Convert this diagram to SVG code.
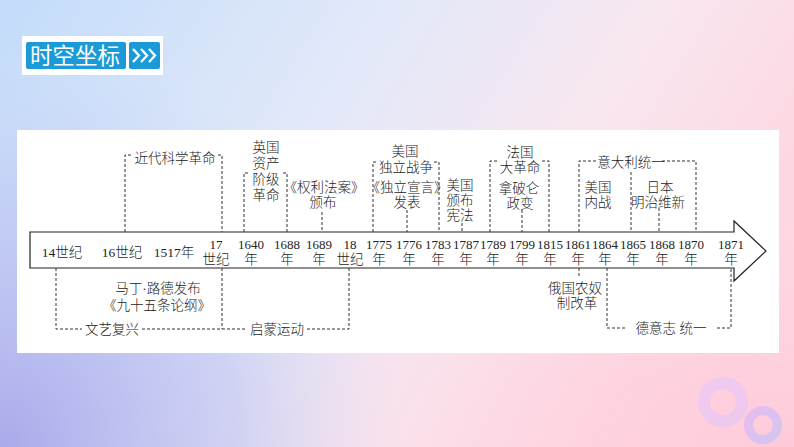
<svg xmlns="http://www.w3.org/2000/svg" width="794" height="447" viewBox="0 0 794 447">
<defs>
<linearGradient id="bg" x1="0" y1="0" x2="1" y2="0.35">
<stop offset="0" stop-color="#c3dcfa"/>
<stop offset="0.45" stop-color="#e3e9f9"/>
<stop offset="0.75" stop-color="#f8e6ef"/>
<stop offset="1" stop-color="#fdd8e2"/>
</linearGradient>
<radialGradient id="lav" cx="0" cy="1" r="0.9" gradientTransform="scale(0.56,1)">
<stop offset="0" stop-color="#a8a6ea" stop-opacity="0.95"/>
<stop offset="0.6" stop-color="#b8bcf0" stop-opacity="0.5"/>
<stop offset="1" stop-color="#c8d4f6" stop-opacity="0"/>
</radialGradient>
<radialGradient id="pk" cx="1" cy="1" r="0.7">
<stop offset="0" stop-color="#ffc8d8" stop-opacity="0.9"/>
<stop offset="1" stop-color="#ffd8e4" stop-opacity="0"/>
</radialGradient>
<linearGradient id="ring2" x1="0" y1="0" x2="1" y2="1">
<stop offset="0" stop-color="#dcb8f4"/>
<stop offset="1" stop-color="#c4c4f8"/>
</linearGradient>
<style>
.t{font-family:"Liberation Serif","Noto Sans CJK SC",serif;font-size:13.5px;font-weight:300;fill:#222;text-anchor:middle}
.y{font-size:13px}
.d{stroke:#333;stroke-width:1;stroke-dasharray:3 2;fill:none}
</style>
</defs>
<rect width="794" height="447" fill="url(#bg)"/>
<rect width="794" height="447" fill="url(#lav)"/>
<rect width="794" height="447" fill="url(#pk)"/>
<circle cx="723" cy="402" r="19" fill="none" stroke="#e8c6f6" stroke-width="12" opacity="0.7"/>
<circle cx="763" cy="425" r="14.5" fill="none" stroke="url(#ring2)" stroke-width="9" opacity="0.75"/>

<g id="title">
<rect x="22" y="36" width="141" height="39" fill="#fff"/>
<rect x="26" y="42" width="100" height="27" rx="2" fill="#1b9ad8"/>
<rect x="129" y="42" width="31" height="27" rx="2" fill="#1b9ad8"/>
<text x="75" y="64" font-family="'Noto Sans CJK SC',sans-serif" font-size="22.5" fill="#fff" text-anchor="middle">时空坐标</text>
<polyline points="133,49 139,55.5 133,62" fill="none" stroke="#fff" stroke-width="2.4"/>
<polyline points="141,49 147,55.5 141,62" fill="none" stroke="#fff" stroke-width="2.4"/>
<polyline points="149,49 155,55.5 149,62" fill="none" stroke="#fff" stroke-width="2.4"/>
</g>

<rect x="17" y="130" width="762" height="223" fill="#fff"/>

<g id="timeline">
<path d="M30,232 H734 V221 L766,251 L734,281 V268 H30 Z" fill="#fff" stroke="#222" stroke-width="1.2"/>
<text class="t" x="62" y="257">14世纪</text>
<text class="t" x="122" y="257">16世纪</text>
<text class="t" x="174" y="257">1517年</text>
<text class="t y" x="216" y="249">17</text><text class="t" x="216" y="264">世纪</text>
<text class="t y" x="251" y="249">1640</text><text class="t" x="251" y="264">年</text>
<text class="t y" x="287" y="249">1688</text><text class="t" x="287" y="264">年</text>
<text class="t y" x="319" y="249">1689</text><text class="t" x="319" y="264">年</text>
<text class="t y" x="350" y="249">18</text><text class="t" x="350" y="264">世纪</text>
<text class="t y" x="379" y="249">1775</text><text class="t" x="379" y="264">年</text>
<text class="t y" x="409" y="249">1776</text><text class="t" x="409" y="264">年</text>
<text class="t y" x="438" y="249">1783</text><text class="t" x="438" y="264">年</text>
<text class="t y" x="466" y="249">1787</text><text class="t" x="466" y="264">年</text>
<text class="t y" x="493" y="249">1789</text><text class="t" x="493" y="264">年</text>
<text class="t y" x="522" y="249">1799</text><text class="t" x="522" y="264">年</text>
<text class="t y" x="550" y="249">1815</text><text class="t" x="550" y="264">年</text>
<text class="t y" x="578" y="249">1861</text><text class="t" x="578" y="264">年</text>
<text class="t y" x="605" y="249">1864</text><text class="t" x="605" y="264">年</text>
<text class="t y" x="633" y="249">1865</text><text class="t" x="633" y="264">年</text>
<text class="t y" x="662" y="249">1868</text><text class="t" x="662" y="264">年</text>
<text class="t y" x="691" y="249">1870</text><text class="t" x="691" y="264">年</text>
<text class="t y" x="731" y="249">1871</text><text class="t" x="731" y="264">年</text>
</g>

<g id="connectors">
<path class="d" d="M125,232 V155 H132 M218,155 H222 V232"/>
<path class="d" d="M244,232 V173 H249 M283,173 H287 V232"/>
<path class="d" d="M322,212 V232"/>
<path class="d" d="M373,232 V162 H378 M434,162 H439 V232"/>
<path class="d" d="M407,210 V232"/>
<path class="d" d="M462,223 V232"/>
<path class="d" d="M490,232 V161 H498 M542,161 H549 V232"/>
<path class="d" d="M522,210 V232"/>
<path class="d" d="M579,232 V161 H598 M662,161 H696 V232"/>
<path class="d" d="M631,172 V232"/>
<path class="d" d="M659,208 V232"/>
<path class="d" d="M56,268 V329 H82 M142,329 H247 M307,329 H349 V268"/>
<path class="d" d="M222,268 V329"/>
<path class="d" d="M579,268 V277"/>
<path class="d" d="M607,268 V328 H625 M717,328 H731 V268"/>
</g>

<g id="n-science"><text class="t" x="175" y="163">近代科学革命</text></g>
<g id="n-english"><text class="t" x="266" y="152">英国</text><text class="t" x="266" y="168">资产</text><text class="t" x="266" y="184">阶级</text><text class="t" x="266" y="200">革命</text></g>
<g id="n-bill"><text class="t" x="324" y="192">《权利法案》</text><text class="t" x="323" y="207">颁布</text></g>
<g id="n-usind"><text class="t" x="405" y="156">美国</text><text class="t" x="406" y="172">独立战争</text></g>
<g id="n-decl"><text class="t" x="407" y="192">《独立宣言》</text><text class="t" x="407" y="207">发表</text></g>
<g id="n-const"><text class="t" x="460" y="190">美国</text><text class="t" x="460" y="205">颁布</text><text class="t" x="460" y="220">宪法</text></g>
<g id="n-french"><text class="t" x="520" y="157">法国</text><text class="t" x="520" y="172">大革命</text></g>
<g id="n-napoleon"><text class="t" x="519" y="193">拿破仑</text><text class="t" x="520" y="208">政变</text></g>
<g id="n-italy"><text class="t" x="631" y="167">意大利统一</text></g>
<g id="n-civilwar"><text class="t" x="598" y="192">美国</text><text class="t" x="598" y="207">内战</text></g>
<g id="n-meiji"><text class="t" x="660" y="192">日本</text><text class="t" x="658" y="207">明治维新</text></g>
<g id="n-luther"><text class="t" x="158" y="293">马丁·路德发布</text><text class="t" x="157" y="310">《九十五条论纲》</text></g>
<g id="n-renaissance"><text class="t" x="112" y="334">文艺复兴</text></g>
<g id="n-enlight"><text class="t" x="277" y="334">启蒙运动</text></g>
<g id="n-russia"><text class="t" x="575" y="293">俄国农奴</text><text class="t" x="577" y="308">制改革</text></g>
<g id="n-germany"><text class="t" x="671" y="333">德意志 统一</text></g>
</svg>
